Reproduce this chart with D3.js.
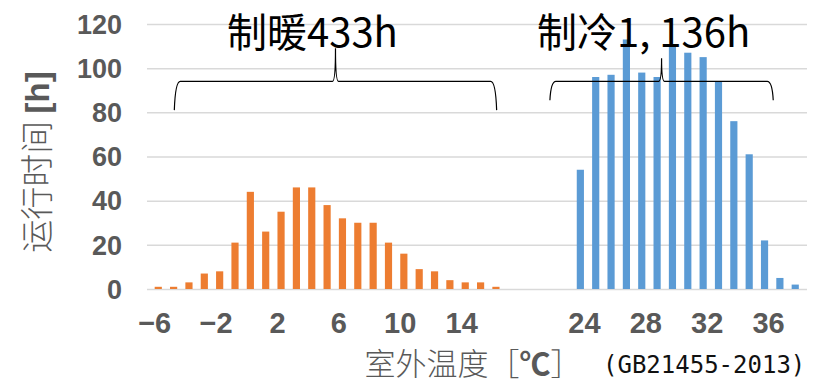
<!DOCTYPE html>
<html>
<head>
<meta charset="utf-8">
<script src="https://cdn.jsdelivr.net/npm/d3@7"></script>
<style>
  body { margin: 0; background: #fff; }
  svg { display: block; }
</style>
</head>
<body>
<svg width="814" height="385"></svg>
<script>
// temperature categories, "" = empty slot between the two seasons
var categories = ["-6", "-5", "-4", "-3", "-2", "-1", "0", "1", "2", "3", "4", "5", "6", "7", "8", "9", "10",
  "11", "12", "13", "14", "15", "16", "", "", "", "", "",
  "24", "25", "26", "27", "28", "29", "30", "31", "32", "33", "34", "35", "36", "37", "38"];

// heating hours (制暖) for -6..16
var heatTemps = ["-6", "-5", "-4", "-3", "-2", "-1", "0", "1", "2", "3", "4", "5", "6", "7", "8", "9", "10",
  "11", "12", "13", "14", "15", "16"];
var heatHours = [1, 1, 3, 7, 8, 21, 44, 26, 35, 46, 46, 38, 32, 30, 30, 21, 16, 9, 8, 4, 3, 3, 1];

// cooling hours (制冷) for 24..38
var coolTemps = ["24", "25", "26", "27", "28", "29", "30", "31", "32", "33", "34", "35", "36", "37", "38"];
var coolHours = [54, 96, 97, 113, 98, 96, 110, 107, 105, 94, 76, 61, 22, 5, 2];

var yTicks = [0, 20, 40, 60, 80, 100, 120];
var xTickLabels = ["-6", "-2", "2", "6", "10", "14", "24", "28", "32", "36"];

var svg = d3.select("svg"),
  margin = { left: 147, right: 7, top: 24, bottom: 96 },
  width = +svg.attr("width"),
  height = +svg.attr("height");

var x = d3.scaleBand()
  .domain(d3.range(categories.length))
  .range([margin.left, width - margin.right]);

var xSub = d3.scaleBand()
  .domain(["cool", "heat"])
  .range([0, x.bandwidth()]);

var y = d3.scaleLinear()
  .domain([0, 120])
  .range([height - margin.bottom, margin.top]);

var grey = "#595959";

// gridlines
svg.append("g")
  .selectAll("line")
  .data(yTicks)
  .enter().append("line")
  .attr("x1", margin.left)
  .attr("x2", width - margin.right)
  .attr("y1", function (d) { return y(d) + 0.5; })
  .attr("y2", function (d) { return y(d) + 0.5; })
  .attr("stroke", "#d9d9d9")
  .attr("stroke-width", 1.5);

// y tick labels
svg.append("g")
  .selectAll("text")
  .data(yTicks)
  .enter().append("text")
  .attr("x", 122)
  .attr("y", function (d) { return y(d); })
  .attr("dy", "0.36em")
  .attr("text-anchor", "end")
  .attr("fill", grey)
  .style("font", "bold 27px 'Liberation Sans', Arial, sans-serif")
  .text(function (d) { return d; });

// x tick labels
svg.append("g")
  .selectAll("text")
  .data(xTickLabels)
  .enter().append("text")
  .attr("x", function (d) { return x(categories.indexOf(d)) + x.bandwidth() / 2; })
  .attr("y", 333)
  .attr("text-anchor", "middle")
  .attr("fill", grey)
  .style("font", "bold 29px 'Liberation Sans', Arial, sans-serif")
  .text(function (d) { return d.replace("-", "\u2212"); });

// bars
svg.append("g")
  .selectAll("rect")
  .data(heatTemps)
  .enter().append("rect")
  .attr("x", function (d) { return x(categories.indexOf(d)) + xSub("heat"); })
  .attr("width", xSub.bandwidth() - 0.5)
  .attr("y", function (d, i) { return y(heatHours[i]); })
  .attr("height", function (d, i) { return y(0) - y(heatHours[i]); })
  .attr("fill", "#ED7D31");

svg.append("g")
  .selectAll("rect")
  .data(coolTemps)
  .enter().append("rect")
  .attr("x", function (d) { return x(categories.indexOf(d)) + xSub("cool"); })
  .attr("width", xSub.bandwidth() - 0.5)
  .attr("y", function (d, i) { return y(coolHours[i]); })
  .attr("height", function (d, i) { return y(0) - y(coolHours[i]); })
  .attr("fill", "#5B9BD5");

// curly braces over each season
function bracePath(x0, x1, yEnd, yArm, yTip) {
  var xm = (x0 + x1) / 2, r = 6;
  return "M" + x0 + "," + yEnd +
    "Q" + (x0 + 1) + "," + yArm + " " + (x0 + r) + "," + yArm +
    "L" + (xm - 3) + "," + yArm +
    "Q" + xm + "," + yArm + " " + xm + "," + yTip +
    "Q" + xm + "," + yArm + " " + (xm + 3) + "," + yArm +
    "L" + (x1 - r) + "," + yArm +
    "Q" + (x1 - 1) + "," + yArm + " " + x1 + "," + yEnd;
}

function xAt(i) { return margin.left + (i + 0.5) * x.step(); }

svg.append("path")
  .attr("d", bracePath(xAt(1.28), xAt(22.28), y(81), y(94), y(109)))
  .attr("fill", "none")
  .attr("stroke", "#000")
  .attr("stroke-width", 1.2);

svg.append("path")
  .attr("d", bracePath(xAt(25.75), xAt(40.3), y(85.5), y(94), y(104.5)))
  .attr("fill", "none")
  .attr("stroke", "#000")
  .attr("stroke-width", 1.2);

var titleFont = "40px 'Noto Sans CJK SC', sans-serif";

svg.append("text")
  .attr("x", 227)
  .attr("y", 47)
  .style("font", titleFont)
  .attr("fill", "#000")
  .text("制暖" + d3.sum(heatHours) + "h");

svg.append("text")
  .attr("x", 537)
  .attr("y", 47)
  .style("font", titleFont)
  .attr("fill", "#000")
  .text("制冷" + d3.format(",")(d3.sum(coolHours)).replace(",", ", ") + "h");

// y axis title
var yTitle = svg.append("text")
  .attr("transform", "translate(49,162)rotate(-90)")
  .attr("text-anchor", "middle")
  .attr("fill", grey)
  .style("font", "300 33px 'Noto Sans CJK SC', sans-serif");
yTitle.append("tspan").text("运行时间 ");
yTitle.append("tspan").style("font-weight", "bold").style("font-family", "'Liberation Sans', Arial, sans-serif").text("[h]");

// x axis title
var xTitle = svg.append("text")
  .attr("x", 473)
  .attr("y", 375)
  .attr("text-anchor", "middle")
  .attr("fill", grey)
  .style("font", "300 31px 'Noto Sans CJK SC', sans-serif");
xTitle.append("tspan").text("室外温度［");
xTitle.append("tspan").style("font-weight", "bold").text("℃");
xTitle.append("tspan").text("］");

svg.append("text")
  .attr("x", 603)
  .attr("y", 373)
  .attr("fill", "#111")
  .style("font", "24px 'DejaVu Sans Mono', monospace")
  .text("(GB21455-2013)");
</script>
</body>
</html>
